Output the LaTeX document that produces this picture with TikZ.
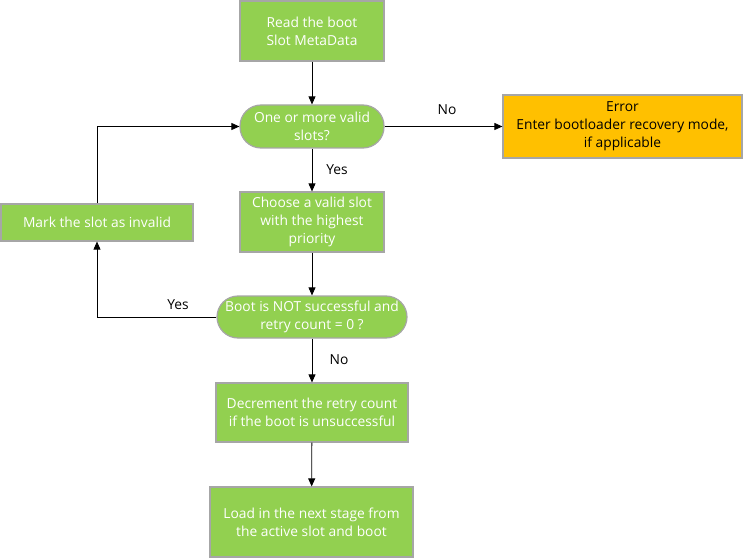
\documentclass[tikz,border=0pt]{standalone}
\usepackage{fontspec}
\setmainfont{Open Sans}
\usepackage{xcolor}
\usetikzlibrary{shapes,arrows,positioning,calc,arrows.meta}

\definecolor{stepgreen}{HTML}{92D050}
\definecolor{errorgold}{HTML}{FFC000}
\definecolor{edgegray}{HTML}{A6A6A6}

\begin{document}
\begin{tikzpicture}[x=1pt,y=-1pt,
    font=\fontsize{13.8}{18}\selectfont,
    stepbox/.style={draw=edgegray, line width=1.2pt, fill=stepgreen, text=white,
        align=center, inner sep=0pt},
    decision/.style={stepbox, rounded corners=21pt},
    errorbox/.style={stepbox, fill=errorgold, text=black},
    flow/.style={-{Triangle[length=8pt,width=7pt]}, line width=0.8pt},
    lbl/.style={font=\fontsize{13.8}{16}\selectfont}]
    \useasboundingbox (0,0) rectangle (745,559);

    % main column
    \node [stepbox, minimum width=144pt, minimum height=60pt] (read) at (312,31)
        {Read the boot\\Slot MetaData};
    \node [decision, minimum width=144pt, minimum height=43pt] (valid) at (312,126.5)
        {One or more valid\\slots?};
    \node [stepbox, minimum width=144pt, minimum height=60pt] (choose) at (312,222)
        {Choose a valid slot\\with the highest\\priority};
    \node [decision, minimum width=190pt, minimum height=42pt] (retry) at (312,317)
        {Boot is NOT successful and\\retry count = 0 ?};
    \node [stepbox, minimum width=192pt, minimum height=59pt] (decr) at (312,412.5)
        {Decrement the retry count\\if the boot is unsuccessful};
    \node [stepbox, minimum width=203pt, minimum height=70pt] (load) at (311.5,522)
        {Load in the next stage from\\the active slot and boot};

    % side boxes
    \node [errorbox, minimum width=239pt, minimum height=63pt] (error) at (622.5,126.5)
        {Error\\Enter bootloader recovery mode,\\if applicable};
    \node [stepbox, minimum width=192pt, minimum height=37pt] (mark) at (97,222.5)
        {Mark the slot as invalid};

    % connectors
    \draw [flow] (read) -- (valid);
    \draw [flow] (valid) -- (choose);
    \draw [flow] (valid) -- (error);
    \draw [flow] (choose) -- (retry);
    \draw [flow] (retry) -- (decr);
    \draw [flow] (decr) -- (load);
    \draw [flow] (retry.west) -| (mark.south);
    \draw [flow] (mark.north) |- (valid.west);

    % labels
    \node [lbl] (noerr) at (447,110) {No};
    \node [lbl] (yeschoose) at (337,170) {Yes};
    \node [lbl] (yesmark) at (178,305) {Yes};
    \node [lbl] (nodecr) at (339,360) {No};
\end{tikzpicture}
\end{document}
